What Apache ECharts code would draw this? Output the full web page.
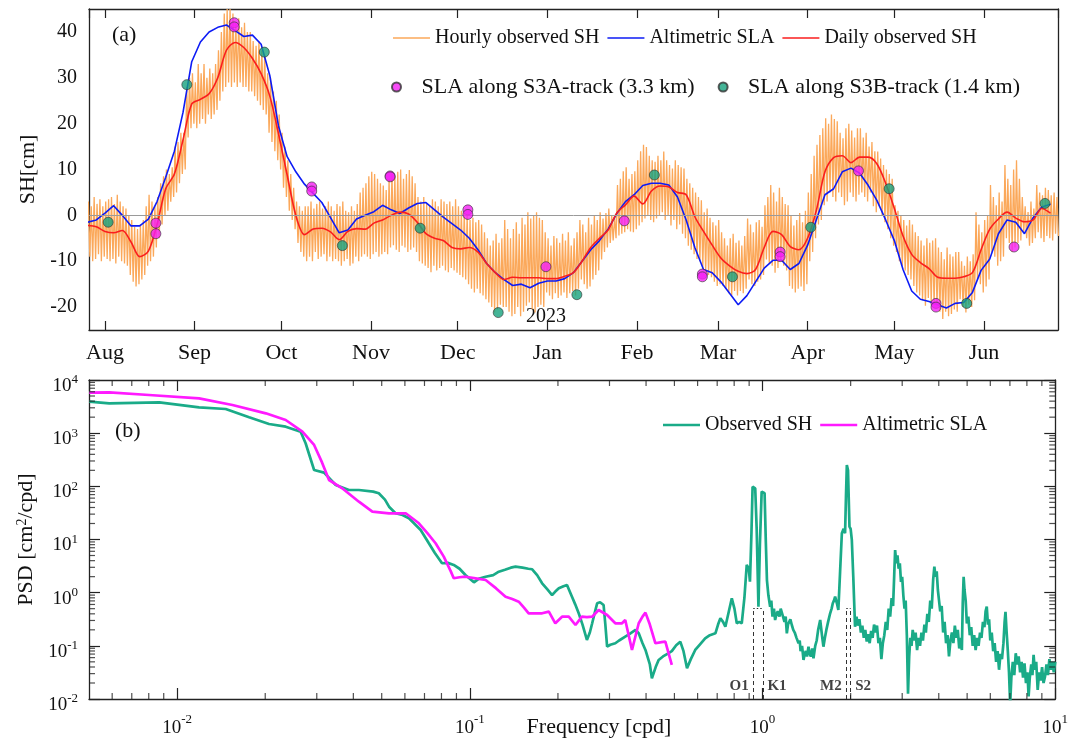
<!DOCTYPE html>
<html><head><meta charset="utf-8">
<script src="https://cdn.jsdelivr.net/npm/echarts@6/dist/echarts.min.js"></script>
<style>html,body{margin:0;padding:0;background:#fff}#c{width:1071px;height:741px}</style>
</head><body><div id="c"></div>
<script>
const FONT = '"Liberation Serif","Times New Roman",serif';
const DAY = 86400000;
const T0 = Date.UTC(2022, 7, 1); // day 0 = 2022-08-01
const monthNames = ['Jan','Feb','Mar','Apr','May','Jun','Jul','Aug','Sep','Oct','Nov','Dec'];

// ---- panel (a) data ----
const hourlyFirstDay = -6;   // one high and one low per day
const hourlyHigh = [3,2,4,2.5,3.5,2,3, 3.5,4,2.5,4.5,3,2,1.5, 0,-1,-2.5,-3,-2,-1, 2,4.5,3,2,4,
 7,8.5,10,9,10.5, 15,16,18,18, 28,30,31,29, 33,31,33,30,32,31,33, 36,40,44,45,45,
 44,42,43,41,42,40,40, 38,37,38,36,35, 31,30,27,25,22, 18,15,12,9,6, 3,2,1,2,
 2,3,1.5,2.5,3,1.5,2,3,2,1,2.5, 2,3,1,0.7,2,1,2.5, 5,6,7,8.5,9.5,9,8,7,6.5,5.5,
 8,9,8.5,9.5,10,8,9,9.9,8.5,7, 4,3,4,2.5,2.2,3.5,3,2, 3.5,3,2.5,3,2,3.5,2,1,
 0.7,0,-1,-0.5,-1.5,-1,-2, -3.7,-5,-6.6,-5.5,-4,-6,-5, -1,-3,-5,-3,-1.5,-4,-0.5,-2,
 0.7,-0.7,0,0.7,-0.5,-1, -3.7,-5,-6.6,-4.5,-5,-6,-4,-5.5,-3.7,-6.6,-5,-3.7,
 -1,-2,-3.7,-0.5,-2,0,-1, 0.7,-0.7,0.5,1.5,0,-0.4, 6.6,8,9.6,10.5,8,9,9.6,
 12,14,15.4,14.9,13,12,11.7,13, 12,13.9,12,11,10.2,12,11,10.5,10.2, 8,7,6,5,4,3.3,
 0.7,1.5,-0.5,-1.5,-2.2,-1, -3.7,-5,-6.6,-5,-4,-6,-5.5,-6.6,-4.5, -0.7,-2,-3.7,-1.5,-1,-2.5,
 2.2,4,6.6,5,3,6,4,2.5, 2.2,0,-2.2,-1,0.5,-1.5,1, 5,9,13,15.4, 17.5,19,21.2,20,22,21,
 20.5,18,16.8,19,20,18.5,17,19, 19,17,18,15,16,14,13.9, 12.4,11,10,9,8,
 2.2,1,0,-1,-2.2,-1,-2, -3.7,-4.5,-5.5,-6.6,-5,-6,-5.5, -5,-7,-8,-9.6,-7,-8.5,-9,-8,
 -8,-10,-11,-9,-10,-8.5, 0.7,-2,-3.7,-1,0, 6.6,4,2.2,5,3, 11,8,6.6,10,12,8,
 4,2,0.7,3,1.5, 6.6,5,4.4,6,5.5,4.4,5,4];
const hourlyLow = [-9,-10,-9.5,-8.5,-10,-9,-9.5, -10,-9.5,-10.5,-9,-10,-10.5,-11, -13,-14.5,-15.5,-15,-14,-13,
 -11,-10,-9,-7,-5, -2,0,1,3,4, 5,7,9,10, 17,19,20,19, 20,21,20,22,21,22,23, 25,27,28,29,28,
 29,28,29,28,28,27,27, 26,25,24,23,22, 18,16,14,12,10, 6,4,1,-1,-3, -6,-8,-9,-10,
 -9,-10,-8,-9.5,-9,-8.5,-10,-9,-10,-9.5,-10, -11,-10,-9.5,-11,-10.5,-9,-10,
 -9,-8.5,-9,-9.5,-8.5,-8,-9,-8.5,-8,-8.5, -7,-6.5,-7.5,-8,-6.6,-7,-8,-7.5,-7,-8,
 -10,-10.5,-11,-11.5,-12.4,-11,-12,-11.5, -11,-12,-12.4,-11.5,-12,-12.5,-13,-13.5,
 -14,-15,-16,-16.8,-16,-17,-17.5, -18.3,-19,-20,-21.2,-20.5,-19.5,-20, -20,-21,-22,-21.5,-20,-22,-21,-19.7,
 -19,-20.5,-21.2,-20,-19.5,-20, -16.8,-17.5,-18.3,-17,-18,-17.5,-16.8,-18,-17,-16.5,-17.5,-16,
 -14,-15,-16,-15.5,-14,-13,-12, -9.6,-8,-7,-6,-5.5,-5, -4.4,-4,-3.7,-3,-3.5,-3.7,-3,
 -2.2,-1.5,-0.7,0,-1,-1.5,-0.7,0, 0.7,-1,0,-2.2,-1,-3,-2,-4,-5, -6.6,-7.5,-8.5,-9.5,-10,-11.4,
 -12.4,-13,-13.5,-14.5,-15.4,-15, -15.4,-16,-17,-17.5,-16.5,-17.5,-16.5,-17,-16, -14,-15,-15.4,-14.5,-14,-13,
 -9.6,-10.5,-11,-12.5,-11.5,-10,-11,-12, -15.4,-16,-16.8,-16,-15.5,-16.5,-15, -10,-8,-5,-2, -1,2.2,3,5,4,3,
 5,4,2.2,3,5,4,3,4.5, 5,4,3,5,2,0.7,2, 0,-1.5,-3,-5,-6.6,
 -8,-10,-11,-12,-13,-14,-15.4, -16.8,-17.5,-18.5,-19.7,-18,-19,-19.5, -19.7,-21,-22.6,-21,-22,-21.5,-20.5,-21,
 -18.3,-20,-21.2,-19.5,-20,-18.5, -14,-15,-16.8,-15.5,-14, -8,-9,-11,-10,-9, -5,-6,-8,-7,-6,-5.5,
 -3.7,-5,-6.6,-6,-5, -3.7,-5,-5.8,-4.5,-5,-5.5,-4,-4.5];

const sampleFirstDay = -6, sampleStepDays = 3;
const dailySH = [-2.2,-2.5,-3.5,-3.8,-3.3,-5.8,-9.0,-7.8,-2,5.8,
 9,16.5,24.3,25.3,26.5,30,36,37.7,36.6,34.2,
 30.9,26,17.8,8.8,0,-4.2,-3.0,-2.8,-3.6,-5.3,
 -3.5,-2.9,-3.0,-1.7,-1.0,0,0.7,0.3,-1.5,-4,
 -5,-5.5,-7,-7.3,-7,-8,-10.5,-12.5,-14,-13.5,
 -13.6,-13.6,-13.6,-13.8,-13.8,-13.3,-12.5,-10,-7,-5,
 -3.2,0.5,2.3,4.2,2.5,5.3,6.4,6.2,5,4.5,
 -0.3,-3.5,-6.5,-9.3,-11,-12.2,-12.7,-11.8,-7,-3.5,
 -4.2,-6.8,-7.5,-5,1,9.5,12.6,13,11.5,12.7,
 12.7,11.2,7,1.5,-4.5,-8.5,-10.3,-11.6,-13.5,-13.7,
 -13.7,-13.4,-12.5,-7.5,-3,-0.8,0.7,-0.6,-1.4,-1,
 1.5,0.5];
const altimetricSLA = [-1.5,-1.0,0.5,2.1,0,-2.3,-2.3,-0.8,3,8.3,
 14,22.5,33.5,37.8,40,41,41.5,40.3,39,39.3,
 37.3,30.5,19.5,12.8,9.5,6.8,4.8,2.8,-0.5,-3.8,
 -3.2,-0.8,0,0.8,2.2,1.2,0.4,1.6,2.6,2.8,
 1.2,-0.4,-1.8,-3.2,-5,-7.5,-10.5,-12.5,-14,-15.3,
 -15,-15.8,-14.8,-14.3,-14.3,-13.8,-12.5,-10,-7.5,-5.5,
 -3,0.4,3,4.5,6.5,7,7,6.6,4,-1,
 -7,-11.8,-12.5,-14.5,-17,-19.5,-17.5,-14.5,-11.5,-9.8,
 -9.8,-11.8,-10.5,-6.5,-1,4.5,5.8,9.5,10.3,9.2,
 6.5,3.2,-1,-5.5,-11.8,-16.5,-18.3,-18.8,-19.5,-20.2,
 -19.2,-19,-16.8,-12,-9.5,-4,-1,-1.5,-4,-0.5,
 1.8,2.4];

const s3aDay = [17.6,17.6,44.7,44.7,71.5,71.5,98.6,98.6,125.5,125.5,152.5,179.6,206.6,206.6,233.5,233.5,260.6,287.4,287.4,314.4];
const s3aSLA = [-1.7,-4.0,42.0,41.1,6.2,5.3,8.6,8.4,1.2,0.2,-11.2,-1.2,-12.8,-13.4,-8.0,-9.0,9.7,-19.2,-20.0,-6.9];
const s3bDay = [1.1,28.3,55.1,82.1,109,136,163.2,190,217,244.1,271.2,298,325.1];
const s3bSLA = [-1.5,28.5,35.6,-6.6,-2.8,-21.2,-17.3,8.8,-13.4,-2.6,5.8,-19.2,2.6];

// ---- panel (b) data: [log10 frequency (cpd), log10 PSD (cm^2/cpd)] ----
const obsPsdLog = [[-2.3,3.592],[-2.232,3.561],[-2.061,3.58],[-1.925,3.486],[-1.834,3.455],[-1.754,3.298],[-1.686,3.172],[-1.629,3.122],[-1.578,3.028],[-1.561,2.81],
 [-1.532,2.307],[-1.498,2.257],[-1.458,2.025],[-1.413,1.931],[-1.379,1.931],[-1.33,1.9],[-1.311,1.869],[-1.29,1.75],[-1.276,1.617],[-1.254,1.493],
 [-1.23,1.46],[-1.208,1.399],[-1.19,1.3],[-1.168,1.179],[-1.15,1.02],[-1.14,0.929],[-1.12,0.75],[-1.095,0.553],[-1.075,0.56],[-1.055,0.521],
 [-1.035,0.45],[-1.015,0.333],[-0.995,0.24],[-0.986,0.195],[-0.97,0.26],[-0.946,0.3],[-0.92,0.33],[-0.901,0.394],[-0.88,0.43],[-0.86,0.47],
 [-0.844,0.489],[-0.82,0.47],[-0.8,0.45],[-0.787,0.44],[-0.77,0.33],[-0.753,0.176],[-0.735,0.06],[-0.719,-0.044],[-0.708,0.02],[-0.696,0.082],
 [-0.68,0.12],[-0.668,0.144],[-0.651,-0.076],[-0.64,-0.22],[-0.628,-0.388],[-0.615,-0.6],[-0.6,-0.89],[-0.59,-0.75],[-0.582,-0.576],[-0.572,-0.35],
 [-0.565,-0.2],[-0.555,-0.18],[-0.543,-0.232],[-0.537,-0.6],[-0.531,-1.016],[-0.52,-0.98],[-0.503,-0.952],[-0.49,-0.9],[-0.469,-0.828],[-0.455,-0.78],
 [-0.434,-0.702],[-0.423,-0.764],[-0.41,-0.95],[-0.4,-1.078],[-0.385,-1.35],[-0.378,-1.61],[-0.372,-1.58],[-0.365,-1.4],[-0.355,-1.266],[-0.34,-1.2],
 [-0.325,-1.15],[-0.31,-1.1],[-0.295,-0.99],[-0.281,-0.922],[-0.27,-1.1],[-0.258,-1.422],[-0.245,-1.25],[-0.23,-1.078],[-0.215,-0.98],[-0.196,-0.86],
 [-0.18,-0.8],[-0.161,-0.764],[-0.152,-0.6],[-0.144,-0.482],[-0.135,-0.55],[-0.127,-0.64],[-0.115,-0.35],[-0.105,-0.106],[-0.096,-0.3],[-0.088,-0.576],
 [-0.08,-0.55],[-0.071,-0.576],[-0.062,-0.1],[-0.054,0.521],[-0.047,0.45],[-0.043,0.206],[-0.038,1.1],[-0.034,1.993],[-0.028,2.0],[-0.025,1.963],
 [-0.02,1.2],[-0.014,-0.264],[-0.009,0.9],[-0.003,1.9],[0.002,1.92],[0.007,1.869],[0.011,1.0],[0.015,0.238],[0.02,-0.05],[0.026,-0.264],
 [0.03,-0.15],[0.034,-0.45],[0.039,-0.3],[0.043,-0.514],[0.048,-0.4],[0.052,-0.35],[0.058,-0.45],[0.062,-0.3],[0.066,-0.326],[0.07,-0.45],
 [0.075,-0.55],[0.079,-0.45],[0.083,-0.764],[0.087,-0.6],[0.09,-0.6],[0.095,-0.5],[0.1,-0.608],[0.105,-0.7],[0.11,-0.75],[0.116,-0.85],
 [0.123,-0.952],[0.127,-0.9],[0.13,-1.1],[0.135,-1.0],[0.14,-1.266],[0.144,-1.15],[0.148,-1.1],[0.152,-1.2],[0.157,-1.016],[0.161,-1.15],
 [0.165,-1.2],[0.17,-1.05],[0.174,-1.234],[0.18,-1.0],[0.185,-0.9],[0.19,-0.7],[0.197,-0.514],[0.203,-0.8],[0.208,-1.016],[0.213,-0.85],
 [0.218,-0.7],[0.224,-0.55],[0.231,-0.388],[0.236,-0.3],[0.24,-0.2],[0.244,-0.15],[0.248,-0.076],[0.254,-0.2],[0.259,-0.326],[0.265,0.4],
 [0.271,1.117],[0.277,1.2],[0.282,1.117],[0.285,1.8],[0.288,2.401],[0.292,2.3],[0.297,1.241],[0.301,1.2],[0.305,0.991],[0.31,0.3],
 [0.316,-0.64],[0.321,-0.45],[0.326,-0.62],[0.331,-0.5],[0.336,-0.75],[0.341,-0.62],[0.346,-0.85],[0.351,-0.7],[0.356,-0.92],[0.361,-0.78],
 [0.366,-0.95],[0.371,-0.72],[0.376,-0.85],[0.381,-0.6],[0.386,-0.75],[0.391,-0.62],[0.396,-0.95],[0.401,-0.85],[0.406,-1.25],[0.411,-0.95],
 [0.416,-0.8],[0.421,-0.55],[0.426,-0.7],[0.431,-0.3],[0.436,-0.45],[0.441,-0.1],[0.446,-0.25],[0.45,0.35],[0.453,0.8],[0.457,0.55],
 [0.461,0.7],[0.465,0.45],[0.469,0.55],[0.473,0.2],[0.477,0.3],[0.481,-0.05],[0.485,-0.3],[0.489,-0.15],[0.493,-0.8],[0.497,-1.9],
 [0.501,-1.2],[0.505,-0.85],[0.509,-1.0],[0.513,-0.7],[0.518,-0.9],[0.523,-0.75],[0.528,-1.08],[0.533,-0.85],[0.538,-1.0],[0.543,-0.75],
 [0.548,-0.9],[0.553,-0.6],[0.558,-0.75],[0.563,-0.4],[0.568,-0.55],[0.573,-0.15],[0.578,-0.3],[0.583,0.25],[0.587,0.49],[0.591,0.3],
 [0.595,0.4],[0.599,0.05],[0.603,-0.15],[0.607,-0.35],[0.612,-0.25],[0.617,-0.75],[0.622,-0.55],[0.627,-0.95],[0.632,-0.8],[0.637,-1.2],
 [0.642,-0.9],[0.647,-0.75],[0.652,-0.95],[0.657,-0.62],[0.662,-0.85],[0.667,-0.7],[0.672,-1.05],[0.677,-0.85],[0.681,-1.08],[0.684,-0.2],
 [0.687,0.3],[0.69,0.05],[0.694,-0.15],[0.698,-0.58],[0.703,-0.45],[0.708,-0.8],[0.713,-0.65],[0.718,-1.0],[0.723,-0.8],[0.728,-1.08],
 [0.733,-0.85],[0.738,-1.0],[0.743,-0.75],[0.748,-0.85],[0.753,-0.55],[0.758,-0.65],[0.762,-0.35],[0.766,-0.26],[0.77,-0.6],[0.774,-0.5],
 [0.778,-0.9],[0.783,-0.75],[0.788,-1.1],[0.793,-0.95],[0.798,-1.3],[0.803,-1.1],[0.808,-1.45],[0.813,-1.15],[0.818,-1.25],[0.823,-0.95],
 [0.827,-0.55],[0.83,-0.36],[0.834,-0.75],[0.838,-1.1],[0.842,-1.5],[0.846,-2.1],[0.85,-1.6],[0.855,-1.3],[0.86,-1.55],[0.865,-1.14],
 [0.87,-1.35],[0.875,-1.2],[0.88,-1.5],[0.885,-1.3],[0.89,-1.6],[0.895,-1.33],[0.9,-1.7],[0.905,-1.5],[0.909,-1.95],[0.913,-1.6],
 [0.918,-1.35],[0.922,-1.55],[0.926,-1.17],[0.93,-1.45],[0.935,-1.3],[0.94,-1.83],[0.945,-1.5],[0.95,-1.65],[0.955,-1.4],[0.96,-1.7],
 [0.965,-1.58],[0.97,-1.35],[0.975,-1.55],[0.98,-1.25],[0.985,-1.45],[0.99,-1.3],[0.995,-1.5],[1.0,-1.3]];
const altPsdLog = [[-2.3,3.761],[-2.232,3.768],[-2.096,3.718],[-1.925,3.655],[-1.811,3.53],[-1.697,3.373],[-1.629,3.248],[-1.572,3.028],[-1.532,2.778],[-1.505,2.45],
 [-1.481,2.119],[-1.436,1.963],[-1.379,1.711],[-1.333,1.523],[-1.276,1.493],[-1.219,1.493],[-1.174,1.305],[-1.145,1.12],[-1.117,0.929],[-1.089,0.678],
 [-1.065,0.4],[-1.055,0.271],[-1.035,0.29],[-1.015,0.3],[-0.98,0.27],[-0.946,0.238],[-0.91,0.08],[-0.878,-0.076],[-0.855,-0.12],[-0.833,-0.17],
 [-0.815,-0.28],[-0.799,-0.388],[-0.775,-0.39],[-0.753,-0.388],[-0.73,-0.357],[-0.708,-0.576],[-0.685,-0.452],[-0.662,-0.452],[-0.639,-0.608],[-0.617,-0.452],
 [-0.6,-0.46],[-0.582,-0.452],[-0.56,-0.326],[-0.531,-0.42],[-0.503,-0.576],[-0.48,-0.576],[-0.469,-0.514],[-0.446,-1.078],[-0.423,-0.576],[-0.41,-0.45],
 [-0.4,-0.376],[-0.385,-0.6],[-0.366,-0.952],[-0.345,-0.93],[-0.332,-0.922],[-0.31,-1.36]];

const tideNames = ['O1','K1','M2','S2'];
const tideFreq = [0.9295, 1.0027, 1.9323, 2.0];
const tideLabelSide = ['left','right','left','right'];

// ---- build ----
const tOf = d => T0 + d * DAY;
const hourlyData = [];
const nH = Math.min(hourlyHigh.length, hourlyLow.length);
for (let i = 0; i < nH; i++) {
  const d = hourlyFirstDay + i;
  hourlyData.push([tOf(d + 0.25), hourlyHigh[i]]);
  hourlyData.push([tOf(d + 0.75), hourlyLow[i]]);
}
const dailyData = dailySH.map((v, k) => [tOf(sampleFirstDay + k * sampleStepDays), v]);
const altData = altimetricSLA.map((v, k) => [tOf(sampleFirstDay + k * sampleStepDays), v]);
const s3aData = s3aDay.map((d, i) => [tOf(d), s3aSLA[i]]);
const s3bData = s3bDay.map((d, i) => [tOf(d), s3bSLA[i]]);
const p10 = x => Math.pow(10, x);
const obsData = obsPsdLog.map(p => [p10(p[0]), p10(p[1])]);
const altPsdData = altPsdLog.map(p => [p10(p[0]), p10(p[1])]);

const fMin = 0.005, fMax = 10, pMin = 0.01, pMax = 10000;
const minorX = [], minorY = [];
for (let e = -3; e <= 0; e++) for (let k = 2; k <= 9; k++) { const v = k * p10(e); if (v > fMin * 1.0001 && v < fMax) minorX.push(v); }
for (let e = -2; e <= 3; e++) for (let k = 2; k <= 9; k++) minorY.push(k * p10(e));

const tMin = tOf(-5.53), tMax = tOf(329.6);
const monthFmt = v => { const d = new Date(v); return (d.getUTCDate() === 1 && d.getUTCHours() === 0) ? monthNames[d.getUTCMonth()] : ''; };
const isPow10 = v => Math.abs(Math.log10(v) - Math.round(Math.log10(v))) < 1e-6;
const lineC = '#222';
const TXT = '#111';
const axLine = { show: true, onZero: false, lineStyle: { color: lineC, width: 1.3 } };

const tickSeries = (data, size, offset) => ({
  type: 'scatter', xAxisIndex: 2, yAxisIndex: 2, data, symbol: 'rect', symbolSize: size,
  symbolOffset: offset, itemStyle: { color: lineC }, silent: true, clip: false, z: 5
});

const option = {
  useUTC: true,
  animation: false,
  backgroundColor: '#fff',
  textStyle: { fontFamily: FONT },
  grid: [
    { left: 89, top: 9, width: 969, height: 321 },
    { left: 89, top: 380, width: 969, height: 319 }
  ],
  legend: [
    { data: ['Hourly observed SH', 'Altimetric SLA', 'Daily observed SH'], left: 393, top: 28, padding: 0,
      icon: 'rect', itemWidth: 37, itemHeight: 1.6, itemGap: 8, textStyle: { fontFamily: FONT, fontSize: 20, color: TXT } },
    { data: ['SLA along S3A-track (3.3 km)', 'SLA along S3B-track (1.4 km)'], left: 391, top: 76, padding: 0,
      itemWidth: 40, itemHeight: 9, itemGap: 23, textStyle: { fontFamily: FONT, fontSize: 22, color: TXT } },
    { data: ['Observed SH', 'Altimetric SLA (PSD)'], left: 663, top: 415, padding: 0,
      icon: 'rect', itemWidth: 37, itemHeight: 2.6, itemGap: 8, formatter: n => n.replace(' (PSD)', ''),
      textStyle: { fontFamily: FONT, fontSize: 20, color: TXT } }
  ],
  xAxis: [
    { type: 'time', gridIndex: 0, min: tMin, max: tMax, splitNumber: 11, minInterval: 27 * DAY, maxInterval: 32 * DAY,
      axisLine: axLine, axisTick: { inside: true, length: 9, lineStyle: { color: lineC, width: 1.2 } },
      axisLabel: { formatter: monthFmt, fontFamily: FONT, fontSize: 22, color: TXT, margin: 12, showMinLabel: false, showMaxLabel: false, hideOverlap: false },
      splitLine: { show: false } },
    { type: 'time', gridIndex: 0, position: 'top', min: tMin, max: tMax, splitNumber: 11, minInterval: 27 * DAY, maxInterval: 32 * DAY,
      axisLine: axLine, axisTick: { inside: true, length: 9, lineStyle: { color: lineC, width: 1.2 } },
      axisLabel: { show: false }, splitLine: { show: false } },
    { type: 'log', gridIndex: 1, min: fMin, max: fMax, logBase: 10,
      axisLine: axLine, axisTick: { inside: true, length: 11, lineStyle: { color: lineC, width: 1.2 } },
      axisLabel: { margin: 14, formatter: v => isPow10(v) ? '{b|10}{s|' + Math.round(Math.log10(v)) + '}' : '', showMinLabel: false,
        rich: { b: { fontFamily: FONT, fontSize: 19, color: TXT, lineHeight: 20, padding: [5.5, 0, 0, 0], verticalAlign: 'top' },
                s: { fontFamily: FONT, fontSize: 13, color: TXT, lineHeight: 12, verticalAlign: 'top' } } },
      splitLine: { show: false } },
    { type: 'log', gridIndex: 1, position: 'top', min: fMin, max: fMax, logBase: 10,
      axisLine: axLine, axisTick: { inside: true, length: 11, lineStyle: { color: lineC, width: 1.2 } },
      axisLabel: { show: false }, splitLine: { show: false } }
  ],
  yAxis: [
    { type: 'value', gridIndex: 0, min: -25, max: 45, splitNumber: 7,
      name: 'SH[cm]', nameLocation: 'middle', nameGap: 42, nameTextStyle: { fontFamily: FONT, fontSize: 22, color: TXT },
      axisLine: axLine, axisTick: { inside: true, length: 8, lineStyle: { color: lineC, width: 1.2 } },
      axisLabel: { formatter: v => (v % 10 === 0 ? String(v) : ''), fontFamily: FONT, fontSize: 20, color: TXT, margin: 12 },
      splitLine: { show: false } },
    { type: 'value', gridIndex: 0, position: 'right', min: -25, max: 45, splitNumber: 7,
      axisLine: axLine, axisTick: { inside: true, length: 8, lineStyle: { color: lineC, width: 1.2 } },
      axisLabel: { show: false }, splitLine: { show: false } },
    { type: 'log', gridIndex: 1, min: pMin, max: pMax, logBase: 10,
      name: 'PSD [cm{s|2}/cpd]', nameLocation: 'middle', nameGap: 52,
      nameTextStyle: { fontFamily: FONT, fontSize: 22, color: TXT,
        rich: { s: { fontFamily: FONT, fontSize: 14, color: TXT, verticalAlign: 'top', lineHeight: 14 } } },
      axisLine: axLine, axisTick: { inside: true, length: 11, lineStyle: { color: lineC, width: 1.2 } },
      axisLabel: { margin: 11, formatter: v => isPow10(v) ? '{b|10}{s|' + Math.round(Math.log10(v)) + '}' : '',
        rich: { b: { fontFamily: FONT, fontSize: 19, color: TXT, lineHeight: 20, verticalAlign: 'bottom' },
                s: { fontFamily: FONT, fontSize: 13, color: TXT, lineHeight: 31 } } },
      splitLine: { show: false } },
    { type: 'log', gridIndex: 1, position: 'right', min: pMin, max: pMax, logBase: 10,
      axisLine: axLine, axisTick: { inside: true, length: 11, lineStyle: { color: lineC, width: 1.2 } },
      axisLabel: { show: false }, splitLine: { show: false } }
  ],
  graphic: [
    { type: 'text', x: 112, y: 35, style: { text: '(a)', font: '22px ' + FONT, fill: TXT, verticalAlign: 'middle' } },
    { type: 'text', x: 115, y: 431, style: { text: '(b)', font: '22px ' + FONT, fill: TXT, verticalAlign: 'middle' } },
    { type: 'text', x: 546, y: 317, style: { text: '2023', font: '20px ' + FONT, fill: TXT, align: 'center', verticalAlign: 'middle' } },
    { type: 'text', x: 599, y: 727, style: { text: 'Frequency [cpd]', font: '22px ' + FONT, fill: TXT, align: 'center', verticalAlign: 'middle' } }
  ],
  series: [
    { name: 'Hourly observed SH', type: 'line', xAxisIndex: 0, yAxisIndex: 0, data: hourlyData, symbol: 'none',
      lineStyle: { color: '#fba85a', width: 1.3 }, itemStyle: { color: '#fba85a' }, z: 1,
      markLine: { silent: true, symbol: ['none', 'none'], label: { show: false }, lineStyle: { color: '#9a9a9a', width: 1, type: 'solid' }, data: [{ yAxis: 0 }] } },
    { name: 'Altimetric SLA', type: 'line', xAxisIndex: 0, yAxisIndex: 0, data: altData, symbol: 'none',
      lineStyle: { color: '#0d1bf5', width: 1.6 }, itemStyle: { color: '#0d1bf5' }, z: 3 },
    { name: 'Daily observed SH', type: 'line', xAxisIndex: 0, yAxisIndex: 0, data: dailyData, symbol: 'none', smooth: 0.3,
      lineStyle: { color: '#fa1e1e', width: 1.6 }, itemStyle: { color: '#fa1e1e' }, z: 4 },
    { name: 'SLA along S3A-track (3.3 km)', type: 'scatter', xAxisIndex: 0, yAxisIndex: 0, data: s3aData, symbolSize: 10,
      itemStyle: { color: '#f51ff5', borderColor: '#333', borderWidth: 0.8 }, z: 6 },
    { name: 'SLA along S3B-track (1.4 km)', type: 'scatter', xAxisIndex: 0, yAxisIndex: 0, data: s3bData, symbolSize: 10,
      itemStyle: { color: '#17a17d', borderColor: '#333', borderWidth: 0.8 }, z: 6 },
    { name: 'Observed SH', type: 'line', xAxisIndex: 2, yAxisIndex: 2, data: obsData, symbol: 'none',
      lineStyle: { color: '#1aab88', width: 2.7 }, itemStyle: { color: '#1aab88' }, z: 3,
      markLine: { silent: true, symbol: ['none', 'none'], label: { show: false },
        lineStyle: { color: '#333', width: 1, type: [4, 3] },
        data: tideFreq.map(f => [{ coord: [f, pMin] }, { coord: [f, 0.5] }]).concat([
          [{ coord: [tideFreq[0], 0.5], lineStyle: { type: [1.5, 2] } }, { coord: [tideFreq[1], 0.5] }],
          [{ coord: [tideFreq[2], 0.5], lineStyle: { type: [1.5, 2] } }, { coord: [tideFreq[3], 0.5] }]
        ]) } },
    { name: 'Altimetric SLA (PSD)', type: 'line', xAxisIndex: 2, yAxisIndex: 2, data: altPsdData, symbol: 'none',
      lineStyle: { color: '#ff1aff', width: 2.7 }, itemStyle: { color: '#ff1aff' }, z: 4 },
    { name: 'tides', type: 'scatter', xAxisIndex: 2, yAxisIndex: 2, silent: true, symbolSize: 1, z: 7,
      itemStyle: { color: 'rgba(0,0,0,0)' },
      data: tideNames.map((n, i) => ({ name: n, value: [tideFreq[i], 0.0176], label: { position: tideLabelSide[i] } })),
      label: { show: true, formatter: '{b}', distance: 4, fontFamily: FONT, fontSize: 15, fontWeight: 'bold', color: TXT } },
    tickSeries(minorX.map(v => [v, pMin]), [1.2, 6], [0, -3]),
    tickSeries(minorX.map(v => [v, pMax]), [1.2, 6], [0, 3]),
    tickSeries(minorY.map(v => [fMin, v]), [6, 1.2], [3, 0]),
    tickSeries(minorY.map(v => [fMax, v]), [6, 1.2], [-3, 0])
  ]
};
const chart = echarts.init(document.getElementById('c'), null, { renderer: 'canvas' });
chart.setOption(option);
</script></body></html>
